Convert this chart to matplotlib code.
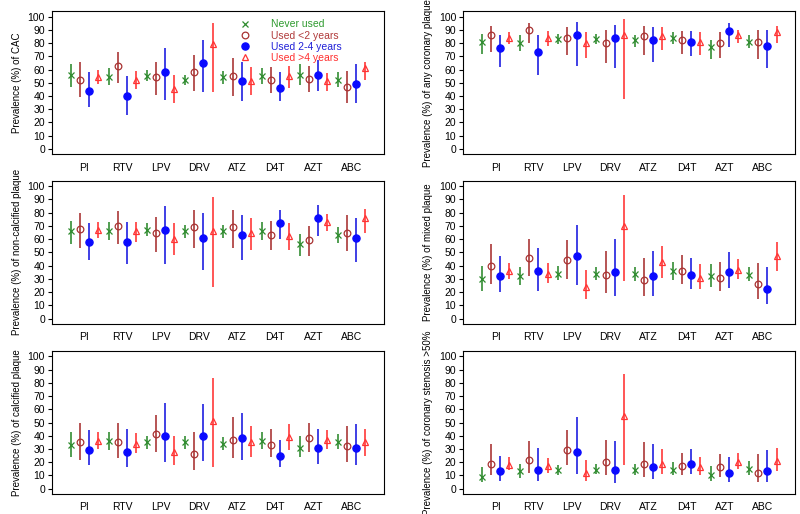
import numpy as np
import matplotlib
matplotlib.use("Agg")
import matplotlib.pyplot as plt

plt.rcParams['font.family'] = ['Liberation Sans', 'DejaVu Sans']

drugs = ["PI", "RTV", "LPV", "DRV", "ATZ", "D4T", "AZT", "ABC"]
series = ["Never used", "Used <2 years", "Used 2-4 years", "Used >4 years"]

# rows: never, <2y, 2-4y, >4y
cac_est = [[56, 54, 55, 52, 54, 55, 56, 52],
           [52, 63, 54, 58, 55, 52, 53, 47],
           [44, 40, 58, 65, 51, 46, 56, 49],
           [54, 52, 45, 79, 51, 55, 51, 61]]
cac_lo = [[47, 48, 51, 48, 49, 49, 48, 47],
          [39, 50, 41, 44, 40, 42, 43, 35],
          [32, 26, 37, 43, 36, 36, 44, 35],
          [49, 45, 35, 43, 41, 46, 44, 52]]
cac_hi = [[64, 61, 60, 56, 59, 61, 64, 58],
          [66, 73, 66, 71, 69, 62, 63, 59],
          [58, 55, 76, 82, 66, 58, 67, 64],
          [60, 59, 56, 95, 62, 63, 57, 66]]

any_est = [[81, 80, 83, 83, 82, 84, 77, 81],
           [86, 90, 84, 80, 85, 82, 80, 81],
           [76, 73, 86, 84, 82, 81, 89, 78],
           [84, 84, 80, 86, 85, 81, 86, 88]]
any_lo = [[72, 74, 79, 79, 77, 79, 68, 76],
          [73, 80, 71, 65, 71, 72, 69, 68],
          [62, 56, 63, 61, 66, 70, 77, 61],
          [79, 78, 69, 38, 75, 71, 80, 80]]
any_hi = [[87, 86, 87, 87, 86, 88, 82, 86],
          [93, 95, 92, 90, 93, 89, 88, 90],
          [86, 86, 96, 94, 92, 89, 95, 90],
          [88, 89, 88, 98, 92, 88, 90, 93]]

noncalc_est = [[66, 66, 67, 66, 66, 66, 56, 63],
               [68, 70, 65, 69, 69, 63, 59, 65],
               [58, 58, 67, 61, 63, 72, 76, 61],
               [67, 66, 60, 66, 65, 62, 73, 76]]
noncalc_lo = [[56, 59, 62, 61, 61, 59, 47, 57],
              [53, 56, 50, 53, 53, 52, 47, 51],
              [44, 41, 41, 37, 44, 60, 62, 43],
              [61, 58, 48, 24, 52, 52, 66, 65]]
noncalc_hi = [[74, 73, 72, 71, 71, 73, 64, 69],
              [80, 81, 77, 82, 82, 74, 70, 78],
              [72, 73, 85, 80, 78, 82, 86, 76],
              [73, 73, 72, 92, 76, 72, 79, 83]]

mixed_est = [[30, 32, 34, 34, 34, 36, 32, 33],
             [40, 46, 44, 33, 29, 36, 31, 26],
             [32, 36, 47, 35, 32, 33, 35, 22],
             [36, 34, 24, 70, 43, 31, 37, 47]]
mixed_lo = [[21, 25, 29, 29, 28, 29, 24, 28],
            [26, 32, 30, 19, 17, 26, 21, 15],
            [20, 21, 25, 17, 17, 22, 23, 11],
            [30, 27, 15, 28, 31, 22, 30, 36]]
mixed_hi = [[40, 39, 40, 39, 39, 43, 41, 39],
            [56, 60, 59, 51, 46, 48, 43, 42],
            [47, 53, 71, 60, 51, 46, 50, 39],
            [42, 42, 37, 93, 55, 41, 45, 58]]

calc_est = [[33, 36, 35, 35, 34, 36, 31, 35],
            [35, 35, 41, 26, 37, 33, 38, 32],
            [29, 28, 40, 40, 38, 25, 31, 31],
            [36, 34, 28, 51, 35, 39, 37, 35]]
calc_lo = [[24, 29, 30, 30, 29, 30, 24, 30],
           [22, 23, 28, 14, 23, 24, 28, 20],
           [18, 16, 20, 21, 22, 16, 19, 18],
           [30, 27, 18, 16, 24, 29, 30, 25]]
calc_hi = [[43, 43, 40, 40, 39, 43, 40, 41],
           [50, 50, 56, 43, 54, 45, 50, 47],
           [44, 45, 65, 64, 57, 37, 45, 49],
           [43, 42, 40, 84, 47, 49, 44, 45]]

sten_est = [[9, 13, 14, 14, 14, 14, 10, 15],
            [19, 22, 29, 20, 19, 17, 16, 12],
            [13, 14, 28, 14, 16, 19, 12, 13],
            [18, 17, 12, 55, 19, 16, 20, 21]]
sten_lo = [[5, 8, 10, 11, 10, 10, 6, 10],
           [10, 12, 18, 10, 9, 10, 9, 5],
           [6, 6, 11, 4, 7, 11, 5, 5],
           [14, 12, 6, 18, 11, 10, 15, 13]]
sten_hi = [[16, 19, 18, 19, 19, 20, 17, 21],
           [34, 36, 44, 37, 35, 27, 26, 26],
           [25, 31, 54, 36, 34, 30, 24, 29],
           [24, 23, 22, 87, 30, 24, 27, 31]]

panels = [
    (cac_est, cac_lo, cac_hi, "Prevalence (%) of CAC"),
    (any_est, any_lo, any_hi, "Prevalence (%) of any coronary plaque"),
    (noncalc_est, noncalc_lo, noncalc_hi, "Prevalence (%) of non-calcified plaque"),
    (mixed_est, mixed_lo, mixed_hi, "Prevalence (%) of mixed plaque"),
    (calc_est, calc_lo, calc_hi, "Prevalence (%) of calcified plaque"),
    (sten_est, sten_lo, sten_hi, "Prevalence (%) of coronary stenosis >50%"),
]

line_cols = ["#2e8b2e", "#a83232", "#1a1ae0", "#ff3333"]
text_cols = ["#2e9a2e", "#b03a3a", "#2020d8", "#ff3030"]
markers = ["x", "o", "o", "^"]
mfc = ["none", "none", "#0a0aff", "none"]
mec = ["#2e8b2e", "#a83232", "#0a0aff", "#ff3333"]
msize = [4.8, 4.8, 5.2, 4.0]
offsets = [-0.36, -0.12, 0.12, 0.36]

fig = plt.figure(figsize=(8, 5.14), dpi=100)
lefts = [0.065, 0.579]
bottoms = [0.700, 0.370, 0.039]

x = np.arange(1, len(drugs) + 1)
for i, (est, lo, hi, ylab) in enumerate(panels):
    ax = fig.add_axes([lefts[i % 2], bottoms[i // 2], 0.415, 0.278])
    for k in range(4):
        xs = x + offsets[k]
        ax.vlines(xs, lo[k], hi[k], color=line_cols[k], lw=1.3, alpha=0.9)
        ax.plot(xs, est[k], linestyle="none", marker=markers[k], ms=msize[k],
                mec=mec[k], mfc=mfc[k], mew=0.9, label=series[k])
    ax.set_xlim(0.15, 8.85)
    ax.set_ylim(-4, 104)
    ax.set_yticks(range(0, 101, 10))
    ax.set_xticks(x)
    ax.set_xticklabels(drugs)
    ax.tick_params(axis="x", length=0, pad=6, labelsize=7.5)
    ax.tick_params(axis="y", length=3, pad=2, labelsize=7.5, direction="out")
    ax.set_ylabel(ylab, fontsize=7.0, labelpad=4)
    for s in ax.spines.values():
        s.set_linewidth(0.8)
    if i == 0:
        ax.legend(loc="upper left", bbox_to_anchor=(0.545, 0.995), frameon=False,
                  fontsize=7.5, handlelength=1.0, handletextpad=2.0,
                  labelspacing=0.12, borderpad=0.2, labelcolor=text_cols)

plt.savefig("out.png", dpi=100)
